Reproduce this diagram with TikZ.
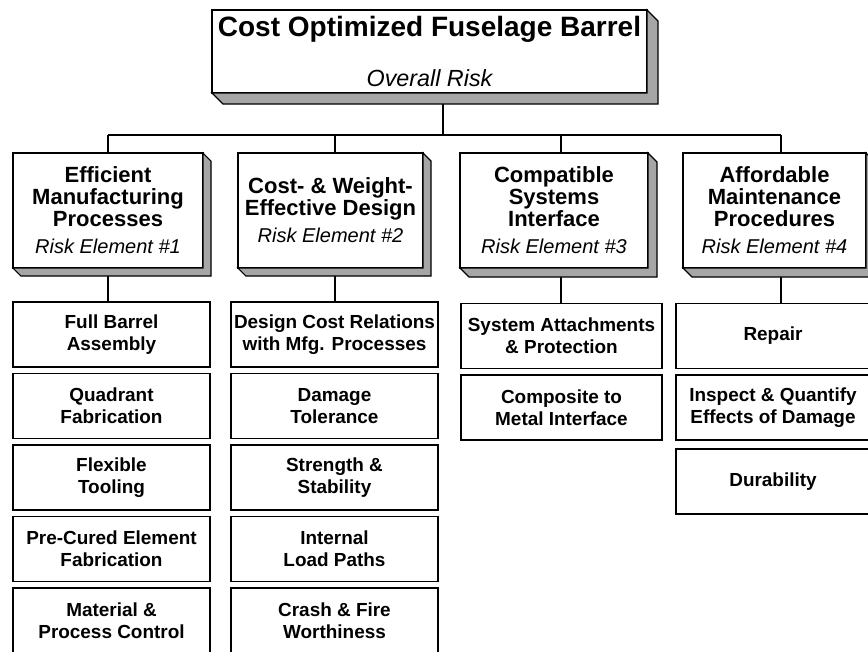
\documentclass[tikz,border=0pt]{standalone}
\usepackage{fontspec}
\setmainfont{Liberation Sans}
\usetikzlibrary{positioning, calc, backgrounds}

\begin{document}
\begin{tikzpicture}[x=0.75pt, y=-0.75pt,
        topbox/.style={rectangle, draw=black, line width=1.4pt, fill=white, minimum width=326.25pt, minimum height=62.25pt, inner sep=2pt, outer sep=0pt, align=center, font=\fontsize{21pt}{24pt}\selectfont},
        riskbox/.style={rectangle, draw=black, line width=1.4pt, fill=white, minimum height=86.25pt, inner sep=2pt, outer sep=0pt, align=center, font=\fontsize{16.5pt}{16.5pt}\selectfont\bfseries},
        taskbox/.style={rectangle, draw=black, line width=1.3pt, fill=white, minimum height=48.75pt, inner sep=1pt, outer sep=0pt, align=center, font=\fontsize{14.2pt}{16.5pt}\selectfont\bfseries},
        colA/.style={taskbox, minimum width=147.75pt},
        colB/.style={taskbox, minimum width=155.25pt},
        colC/.style={taskbox, minimum width=150.75pt},
        colD/.style={taskbox, minimum width=145.5pt},
        bevel/.style={fill=gray!70, draw=black, line width=0.8pt},
        line/.style={draw=black, line width=1.1pt}
    ]
    \useasboundingbox (0,0) rectangle (868,651);

    % Nodes
    \node[topbox] (top) at (429.5,51.5) {{\bfseries Cost Optimized Fuselage Barrel}\\[13.5pt]{\itshape\fontsize{17.5pt}{20pt}\selectfont Overall Risk}};

    \node[riskbox, minimum width=142.5pt] (risk1) at (108,210.5) {Efficient\\Manufacturing\\Processes\\[3.75pt]{\mdseries\itshape\fontsize{15pt}{16.5pt}\selectfont Risk Element \#1}};
    \node[riskbox, minimum width=138.75pt] (risk2) at (330.5,210.5) {Cost- \& Weight-\\Effective Design\\[3.75pt]{\mdseries\itshape\fontsize{15pt}{16.5pt}\selectfont Risk Element \#2}};
    \node[riskbox, minimum width=141pt] (risk3) at (554,210.5) {Compatible\\Systems\\Interface\\[3.75pt]{\mdseries\itshape\fontsize{15pt}{16.5pt}\selectfont Risk Element \#3}};
    \node[riskbox, minimum width=137.25pt] (risk4) at (774.5,210.5) {Affordable\\Maintenance\\Procedures\\[3.75pt]{\mdseries\itshape\fontsize{15pt}{16.5pt}\selectfont Risk Element \#4}};

    \node[colA] (full) at (111.5,334.5) {Full Barrel\\Assembly};
    \node[colA, below=4.875pt of full] (quad) {Quadrant\\Fabrication};
    \node[colA, below=4.875pt of quad] (flex) {Flexible\\Tooling};
    \node[colA, below=4.875pt of flex] (precured) {Pre-Cured Element\\Fabrication};
    \node[colA, below=4.875pt of precured] (matl) {Material \&\\Process Control};

    \node[colB] (dcost) at (334.5,334.5) {Design Cost Relations\\with Mfg. Processes};
    \node[colB, below=4.875pt of dcost] (damage) {Damage\\Tolerance};
    \node[colB, below=4.875pt of damage] (strength) {Strength \&\\Stability};
    \node[colB, below=4.875pt of strength] (loads) {Internal\\Load Paths};
    \node[colB, below=4.875pt of loads] (crash) {Crash \& Fire\\Worthiness};

    \node[colC] (attach) at (561.5,336) {System Attachments\\\& Protection};
    \node[colC, below=4.875pt of attach] (metal) {Composite to\\Metal Interface};

    \node[colD] (repair) at (773,336) {Repair};
    \node[colD, below=4.875pt of repair] (inspect) {Inspect \& Quantify\\Effects of Damage};
    \node[colD, below=6.5pt of inspect] (durab) {Durability};

    % 3-D edges of the risk boxes
    \foreach \n/\d in {top/11, risk1/8, risk2/8, risk3/9, risk4/9}
        \filldraw[bevel] (\n.north east) -- ++(\d,\d) -- ($(\n.south east)+(\d,\d)$) -- ($(\n.south west)+(\d,\d)$) -- (\n.south west) -- (\n.south east) -- cycle;

    % Edges
    \coordinate (hub) at (443,135);
    \coordinate (j1) at (108,135);
    \coordinate (j2) at (335,135);
    \coordinate (j3) at (561,135);
    \coordinate (j4) at (781,135);
    \begin{scope}[on background layer]
        \draw[line] (top.south -| hub) -- (hub);
        \draw[line] (j1) -- (j4);
        \foreach \i in {1,...,4}
            \draw[line] (j\i) -- (j\i |- risk\i.north);
        \draw[line] (risk1.south -| j1) -- (j1 |- full.north);
        \draw[line] (risk2.south -| j2) -- (j2 |- dcost.north);
        \draw[line] (risk3.south -| j3) -- (j3 |- attach.north);
        \draw[line] (risk4.south -| j4) -- (j4 |- repair.north);
    \end{scope}
\end{tikzpicture}
\end{document}
